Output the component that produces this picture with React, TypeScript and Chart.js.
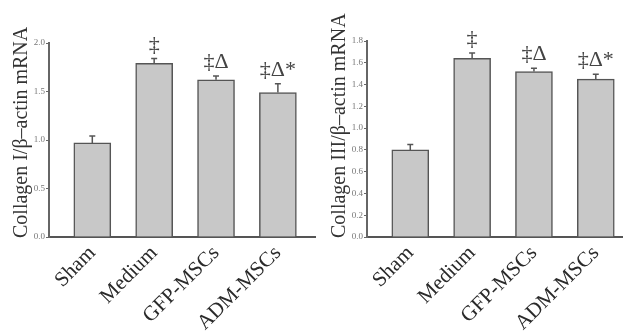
import React, { useEffect, useRef } from 'react';
import { Chart, registerables } from 'chart.js';

Chart.register(...registerables);

const categories = ['Sham', 'Medium', 'GFP-MSCs', 'ADM-MSCs'];
const collagen1Values = [0.97, 1.79, 1.62, 1.49];
const collagen1Errors = [0.07, 0.05, 0.04, 0.09];
const collagen3Values = [0.8, 1.64, 1.52, 1.45];
const collagen3Errors = [0.05, 0.05, 0.03, 0.045];
const significanceMarks = ['', '‡', '‡Δ', '‡Δ*'];
const collagen1Ticks = [0, 0.5, 1.0, 1.5, 2.0];
const collagen3Ticks = [0, 0.2, 0.4, 0.6, 0.8, 1.0, 1.2, 1.4, 1.6, 1.8];
const collagen1Title = 'Collagen I/β–actin mRNA';
const collagen3Title = 'Collagen III/β–actin mRNA';

const SERIF = '"Liberation Serif", "Times New Roman", serif';

const overlayPlugin = {
  id: 'overlay',
  afterDatasetsDraw(chart: any, _args: any, opts: any) {
    const { ctx, chartArea } = chart;
    const x = chart.scales.x;
    const y = chart.scales.y;
    const data = chart.data.datasets[0].data as { x: number; y: number }[];
    ctx.save();
    ctx.strokeStyle = '#555';
    ctx.lineWidth = 1.5;
    data.forEach((pt, i) => {
      const px = x.getPixelForValue(pt.x);
      const top = y.getPixelForValue(pt.y);
      const cap = y.getPixelForValue(pt.y + opts.errors[i]);
      ctx.beginPath();
      ctx.moveTo(px, top);
      ctx.lineTo(px, cap);
      ctx.moveTo(px - 3, cap);
      ctx.lineTo(px + 3, cap);
      ctx.stroke();
      const mark = opts.marks[i];
      if (mark) {
        ctx.font = `22px ${SERIF}`;
        ctx.fillStyle = '#444';
        ctx.textAlign = 'center';
        ctx.textBaseline = 'alphabetic';
        ctx.fillText(mark, px, cap - 8);
      }
    });
    // y-axis title
    ctx.translate(27, chartArea.bottom + 1);
    ctx.rotate(-Math.PI / 2);
    ctx.font = `20px ${SERIF}`;
    ctx.fillStyle = '#333';
    ctx.textAlign = 'left';
    ctx.textBaseline = 'alphabetic';
    ctx.fillText(opts.title, 0, 0);
    ctx.restore();
  },
};

type PanelProps = {
  width: number;
  values: number[];
  errors: number[];
  ticks: number[];
  yMax: number;
  xMax: number;
  topPad: number;
  rightPad: number;
  title: string;
};

function BarPanel(props: PanelProps) {
  const ref = useRef<HTMLCanvasElement>(null);
  useEffect(() => {
    const { values, errors, ticks, yMax, xMax, topPad, rightPad, title } = props;
    const chart = new Chart(ref.current as HTMLCanvasElement, {
      type: 'bar',
      data: {
        datasets: [
          {
            data: values.map((v, i) => ({ x: i + 1, y: v })),
            backgroundColor: '#c8c8c8',
            borderColor: '#555',
            borderWidth: 1.5,
            barThickness: 37,
          } as any,
        ],
      },
      options: {
        responsive: false,
        animation: false,
        layout: { padding: { top: topPad, right: rightPad, left: 0, bottom: 0 } },
        plugins: {
          legend: { display: false },
          tooltip: { enabled: false },
          overlay: { errors, marks: significanceMarks, title },
        } as any,
        scales: {
          x: {
            type: 'linear',
            offset: false,
            min: 0.3,
            max: xMax,
            afterBuildTicks: (s: any) => {
              s.ticks = categories.map((_, i) => ({ value: i + 1 }));
            },
            afterFit: (s: any) => {
              s.height = 98;
              s.paddingLeft = 0;
              s.paddingRight = 0;
            },
            grid: { display: false, drawTicks: false, offset: false },
            border: { display: true, color: '#555', width: 2 },
            ticks: {
              autoSkip: false,
              maxRotation: 45,
              minRotation: 45,
              padding: 4,
              color: '#2a2a2a',
              font: { family: SERIF, size: 21 },
              callback: (v: any) => categories[Number(v) - 1] ?? '',
            },
          },
          y: {
            min: 0,
            max: yMax,
            afterBuildTicks: (s: any) => {
              s.ticks = ticks.map((v) => ({ value: v }));
            },
            afterFit: (s: any) => {
              s.width = 49;
              s.paddingTop = 0;
              s.paddingBottom = 0;
            },
            grid: { drawOnChartArea: false, drawTicks: true, tickLength: 3, color: '#666' },
            border: { display: true, color: '#666', width: 2 },
            ticks: {
              padding: 1,
              color: '#777',
              font: { family: SERIF, size: 9 },
              callback: (v: any) => Number(v).toFixed(1),
            },
          },
        } as any,
      },
      plugins: [overlayPlugin],
    });
    return () => chart.destroy();
  }, []);
  return <canvas ref={ref} width={props.width} height={335} style={{ display: 'block' }} />;
}

export default function App() {
  return (
    <div style={{ position: 'absolute', left: 0, top: 0, width: 623, height: 335, background: '#fff', overflow: 'hidden' }}>
      <div style={{ position: 'absolute', left: 0, top: 0 }}>
        <BarPanel
          width={318}
          values={collagen1Values}
          errors={collagen1Errors}
          ticks={collagen1Ticks}
          yMax={2.0}
          xMax={4.6}
          topPad={43}
          rightPad={3}
          title={collagen1Title}
        />
      </div>
      <div style={{ position: 'absolute', left: 318, top: 0 }}>
        <BarPanel
          width={305}
          values={collagen3Values}
          errors={collagen3Errors}
          ticks={collagen3Ticks}
          yMax={1.8}
          xMax={4.44}
          topPad={41}
          rightPad={0}
          title={collagen3Title}
        />
      </div>
    </div>
  );
}
